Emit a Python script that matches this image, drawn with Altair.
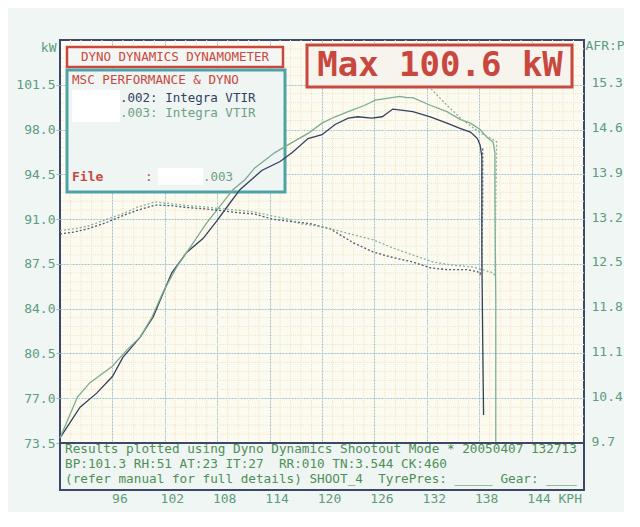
import altair as alt
import pandas as pd

# ---------------- data ----------------
kph_ticks = [96, 102, 108, 114, 120, 126, 132, 138, 144]
kw_ticks = [73.5, 77.0, 80.5, 84.0, 87.5, 91.0, 94.5, 98.0, 101.5]
afr_ticks = [9.7, 10.4, 11.1, 11.8, 12.5, 13.2, 13.9, 14.6, 15.3]

# run .002 (dark) power
p002_kph = [90.0, 92.3, 94.2, 96.0, 97.2, 99.2, 100.7, 101.8, 102.8, 104.5, 106.4, 108.0,
            109.5, 110.6, 113.1, 115.2, 116.6, 118.4, 120.0, 121.5, 123.0, 124.1, 125.7,
            126.9, 128.1, 129.3, 130.4, 132.4, 134.3, 135.8, 137.0, 137.8, 138.1, 138.3,
            138.3, 138.4, 138.5]
p002_kw = [73.9, 76.3, 77.4, 78.7, 80.2, 81.8, 83.4, 85.2, 86.8, 88.4, 89.5, 90.9,
           92.3, 93.3, 94.8, 95.5, 96.2, 97.3, 97.6, 98.4, 98.9, 99.0, 98.9,
           99.0, 99.6, 99.5, 99.4, 99.0, 98.5, 98.1, 97.8, 97.3, 96.8, 95.9,
           88.6, 81.6, 75.7]

# run .003 (green) power
p003_kph = [90.0, 92.0, 93.4, 96.0, 97.7, 99.2, 100.5, 101.8, 103.4, 104.9, 106.8, 108.3,
            109.8, 111.2, 112.3, 114.6, 116.6, 118.4, 120.0, 121.5, 123.0, 124.9, 126.1,
            128.0, 128.9, 129.7, 130.4, 132.4, 134.3, 135.8, 137.0, 138.1, 138.9, 139.6,
            139.8, 139.8, 139.9, 139.9]
p003_kw = [73.9, 77.1, 78.2, 79.5, 80.8, 81.8, 83.3, 85.3, 87.3, 88.8, 90.7, 92.0,
           93.3, 94.1, 95.0, 96.2, 97.0, 97.7, 98.5, 99.0, 99.4, 99.9, 100.3,
           100.5, 100.6, 100.5, 100.5, 99.9, 99.4, 98.8, 98.5, 98.0, 97.4, 97.0,
           96.2, 92.5, 84.7, 73.6]

# run .002 (dark) air/fuel ratio
a002_kph = [90.0, 91.7, 93.2, 95.2, 97.1, 98.9, 100.9, 102.8, 104.7, 106.6, 108.6, 110.4,
            112.3, 114.3, 116.1, 118.6, 120.9, 123.6, 125.8, 127.8, 130.4, 132.4, 134.3,
            136.6, 137.8, 138.1, 138.3, 138.4, 138.4]
a002_afr = [12.97, 13.00, 13.05, 13.14, 13.25, 13.34, 13.42, 13.41, 13.38, 13.36, 13.33, 13.30,
            13.28, 13.20, 13.17, 13.13, 13.05, 12.83, 12.69, 12.61, 12.53, 12.44, 12.41,
            12.41, 12.38, 12.34, 12.44, 13.50, 14.31]

# run .003 (green) air/fuel ratio
a003_kph = [90.0, 91.7, 93.2, 95.2, 97.1, 98.9, 100.9, 102.8, 104.7, 106.6, 108.6, 110.4,
            112.3, 114.3, 116.1, 117.5, 120.1, 122.9, 125.8, 128.1, 130.4, 132.7, 135.0,
            137.3, 138.4, 139.6, 139.8, 139.9, 140.0, 138.1, 136.1, 134.3, 132.4]
a003_afr = [13.02, 13.05, 13.09, 13.19, 13.28, 13.39, 13.47, 13.44, 13.41, 13.39, 13.36, 13.34,
            13.31, 13.25, 13.20, 13.13, 13.08, 12.98, 12.88, 12.75, 12.64, 12.53, 12.48,
            12.45, 12.41, 12.36, 12.31, 13.50, 14.41, 14.55, 14.75, 14.98, 15.25]

# ---------------- styling ----------------
W, H = 524, 450
MONO = "DejaVu Sans Mono"
RED = "#c9483e"
TEAL = "#4fa3a6"
NAVY = "#34405f"
GREEN_LINE = "#7eab93"
LABEL = "#5d9c80"
TEXTGREEN = "#4f8f57"
KPH_DOM = [90, 150]
KW_DOM = [69.83, 105.0]
AFR_DOM = [8.966, 16.0]
NB = "\u00a0"

def frame(kph, val, name):
    return pd.DataFrame({"kph": kph, name: val, "i": list(range(len(kph)))})

x_enc = alt.X("kph:Q", scale=alt.Scale(domain=KPH_DOM, nice=False, zero=False),
              axis=alt.Axis(values=kph_ticks, grid=True, gridColor="#a6c0ca", gridDash=[2, 1],
                            gridWidth=1, domain=False, ticks=False, labelPadding=2, labelOffset=7,
                            labelFont=MONO, labelFontSize=13, labelColor=LABEL,
                            title="KPH", titleX=498, titleY=2, titleAlign="left",
                            titleBaseline="top", titleFont=MONO, titleFontSize=13,
                            titleFontWeight="normal", titleColor=LABEL))

kw_scale = alt.Scale(domain=KW_DOM, nice=False, zero=False)
y_kw = alt.Y("kw:Q", scale=kw_scale,
             axis=alt.Axis(values=kw_ticks, format=".1f", grid=True, gridColor="#a6c0ca",
                           gridDash=[2, 1], gridWidth=1, domain=False, ticks=True, tickSize=4,
                           tickColor="#9ab4bc", labelPadding=1, labelFont=MONO, labelFontSize=13,
                           labelColor=LABEL, title="kW", titleAngle=0, titleX=-4, titleY=7,
                           titleAlign="right", titleBaseline="middle", titleFont=MONO,
                           titleFontSize=13, titleFontWeight="normal", titleColor=LABEL))

afr_scale = alt.Scale(domain=AFR_DOM, nice=False, zero=False)
y_afr = alt.Y("afr:Q", scale=afr_scale,
              axis=alt.Axis(orient="right", values=afr_ticks, format=".1f", grid=False,
                            domain=False, ticks=False, labelPadding=7, labelOffset=-2,
                            labelFont=MONO, labelFontSize=13, labelColor=LABEL,
                            title="AFR:P", titleAngle=0, titleX=1, titleY=5, titleAlign="left",
                            titleBaseline="middle", titleFont=MONO, titleFontSize=13,
                            titleFontWeight="normal", titleColor=LABEL))

# minor (orange) grid positions: five subdivisions of each major division
minor_x = [90 + k * 1.2 for k in range(1, 50) if k % 5 != 0]
minor_y = [73.5 + k * 0.7 for k in range(1, 45) if k % 5 != 0]

minor_v = alt.Chart(pd.DataFrame({"kph": minor_x})).mark_rule(
    color="#f5e3bd", strokeWidth=1, strokeDash=[1, 1]).encode(x=x_enc)
minor_h = alt.Chart(pd.DataFrame({"kw": minor_y})).mark_rule(
    color="#f5e3bd", strokeWidth=1, strokeDash=[1, 1]).encode(y=y_kw)

def box(x1, x2, y1, y2, fill, stroke=None, sw=0):
    kw = dict(fill=fill)
    if stroke:
        kw.update(stroke=stroke, strokeWidth=sw)
    return alt.Chart(pd.DataFrame({"b": [0]})).mark_rect(**kw).encode(
        x=alt.value(x1), x2=alt.value(x2), y=alt.value(y1), y2=alt.value(y2))

def label(s, x, y, color, size, align="left", weight="normal"):
    return alt.Chart(pd.DataFrame({"t": [s]})).mark_text(
        font=MONO, fontSize=size, color=color, align=align, baseline="middle",
        fontWeight=weight).encode(x=alt.value(x), y=alt.value(y), text="t:N")

boxes = [
    box(7, 223, 7, 27, "#f3f6f2", RED, 2.5),
    box(7, 225, 30, 152, "#eef5f3", TEAL, 3),
    box(12, 60, 50, 82, "#ffffff"),
    box(98, 143, 128, 145, "#ffffff"),
    box(247, 512, 5, 47, "#f7f4ee", RED, 3),
    box(0, W, 403, H, "#eef5f2", "#3c4868", 2),
]

pw002 = alt.Chart(frame(p002_kph, p002_kw, "kw")).mark_line(
    color=NAVY, strokeWidth=1.3).encode(x=x_enc, y=y_kw, order="i:Q")
pw003 = alt.Chart(frame(p003_kph, p003_kw, "kw")).mark_line(
    color=GREEN_LINE, strokeWidth=1.3).encode(x=x_enc, y=y_kw, order="i:Q")

af002 = alt.Chart(frame(a002_kph, a002_afr, "afr")).mark_line(
    color="#4d5872", strokeWidth=1.3, strokeDash=[2, 2]).encode(x=x_enc, y=y_afr, order="i:Q")
af003 = alt.Chart(frame(a003_kph, a003_afr, "afr")).mark_line(
    color="#86b39b", strokeWidth=1.3, strokeDash=[2, 2]).encode(x=x_enc, y=y_afr, order="i:Q")

texts = [
    label("DYNO DYNAMICS DYNAMOMETER", 115, 17, RED, 12.5, align="center"),
    label("MSC PERFORMANCE & DYNO", 12, 40, RED, 12.6),
    label(".002: Integra VTIR", 60, 58, NAVY, 12.5),
    label(".003: Integra VTIR", 60, 73, "#6f9f86", 12.5),
    label("File", 12, 137, RED, 13, weight="bold"),
    label(":", 85, 137, RED, 13),
    label(".003", 143, 137, "#6f9f86", 12.5),
    label("Max 100.6 kW", 380, 26, RED, 34, align="center", weight="bold"),
    label("Results plotted using Dyno Dynamics Shootout Mode * 20050407 132713", 5, 409, TEXTGREEN, 12.7),
    label("BP:101.3 RH:51 AT:23 IT:27" + NB + " RR:010 TN:3.544 CK:460", 5, 424, TEXTGREEN, 12.7),
    label("(refer manual for full details) SHOOT_4" + NB + " TyrePres: _____ Gear: ____", 5, 439, TEXTGREEN, 12.7),
]

kw_group = alt.layer(minor_v, minor_h, *boxes, pw002, pw003)
afr_group = alt.layer(af002, af003)
txt_group = alt.layer(*texts)

chart = alt.layer(kw_group, afr_group, txt_group).resolve_scale(y="independent").properties(
    width=W, height=H,
    autosize=alt.AutoSizeParams(type="none"),
    padding={"left": 52, "top": 32, "right": 40, "bottom": 22},
).configure(background="#f0f6f3").configure_view(
    fill="#fbfbf1", stroke="#3c4868", strokeWidth=2)

chart.save("out.html", embed_options={"renderer": "svg", "actions": False})
